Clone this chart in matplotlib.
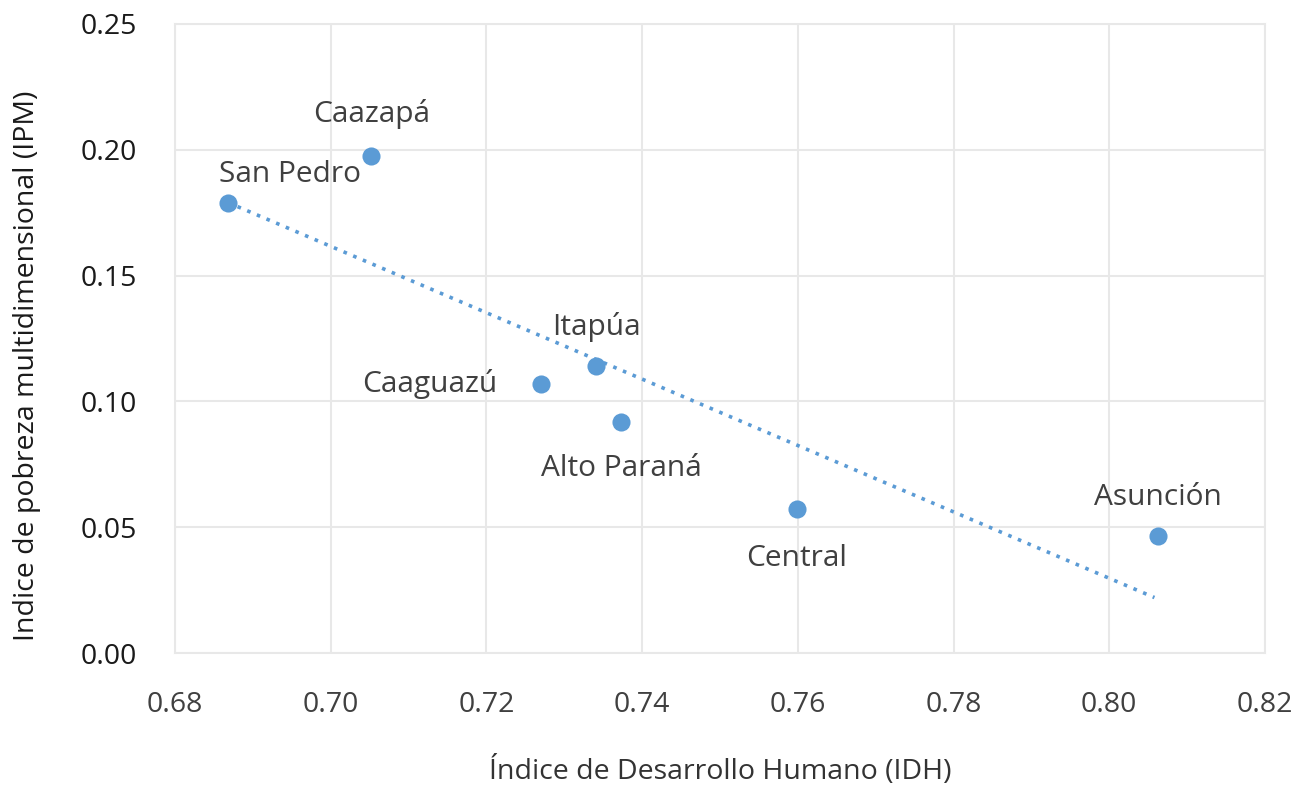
import matplotlib
matplotlib.use("Agg")
import matplotlib.pyplot as plt
import numpy as np

plt.rcParams['font.family'] = ['Open Sans', 'DejaVu Sans']

departamentos = ["San Pedro", "Caazapá", "Caaguazú", "Itapúa", "Alto Paraná", "Central", "Asunción"]
idh = [0.6868, 0.7052, 0.7270, 0.7341, 0.7373, 0.7599, 0.8063]
ipm = [0.1789, 0.1975, 0.1069, 0.1141, 0.0918, 0.0572, 0.0465]
# label offsets in pixels (dx, dy) and alignment
label_offsets = [(62, 28, 'center'), (0, 42, 'center'), (-44, 0, 'right'), (0, 39, 'center'),
                 (0, -46, 'center'), (0, -49, 'center'), (0, 39, 'center')]
xticks = [0.68, 0.70, 0.72, 0.74, 0.76, 0.78, 0.80, 0.82]
yticks = [0.00, 0.05, 0.10, 0.15, 0.20, 0.25]

color = '#5b9bd5'
text_color = '#404040'

fig = plt.figure(figsize=(13.09, 7.87), dpi=100)
ax = fig.add_axes([175/1309, 1 - 653/787, (1265-175)/1309, (653-24)/787])

ax.set_xlim(0.68, 0.82)
ax.set_ylim(0.0, 0.25)
ax.set_xticks(xticks)
ax.set_yticks(yticks)
ax.set_xticklabels([f"{v:.2f}" for v in xticks])
ax.set_yticklabels([f"{v:.2f}" for v in yticks])
ax.grid(True, color='#e8e8e8', linewidth=1.5)
ax.set_axisbelow(True)
for s in ax.spines.values():
    s.set_color('#e8e8e8')
    s.set_linewidth(1.5)
ax.tick_params(axis='x', length=0, labelsize=20.5, colors='#404040', pad=27)
ax.tick_params(axis='y', length=0, labelsize=20.5, colors='#1a1a1a', pad=27)

# trend line (least squares)
x = np.array(idh); y = np.array(ipm)
m, b = np.polyfit(x, y, 1)
xs = np.array([x.min(), x.max() - 0.0005])
ax.plot(xs, m * xs + b, linestyle=(0, (1, 1.9)), color=color, linewidth=2.6, zorder=2)

ax.scatter(idh, ipm, s=170, color=color, zorder=3, linewidths=0)

for name, xv, yv, (dx, dy, ha) in zip(departamentos, idh, ipm, label_offsets):
    ax.annotate(name, (xv, yv), xytext=(dx, dy), textcoords='offset pixels',
                ha=ha, va='center', fontsize=21.5, color=text_color)

ax.set_xlabel("Índice de Desarrollo Humano (IDH)", fontsize=20.5, color='#333333', labelpad=27)
ax.set_ylabel("Indice de pobreza multidimensional (IPM)", fontsize=20.5, color='#1a1a1a')
ax.yaxis.set_label_coords(-0.123, 0.456)

fig.savefig("out.png", dpi=100)
